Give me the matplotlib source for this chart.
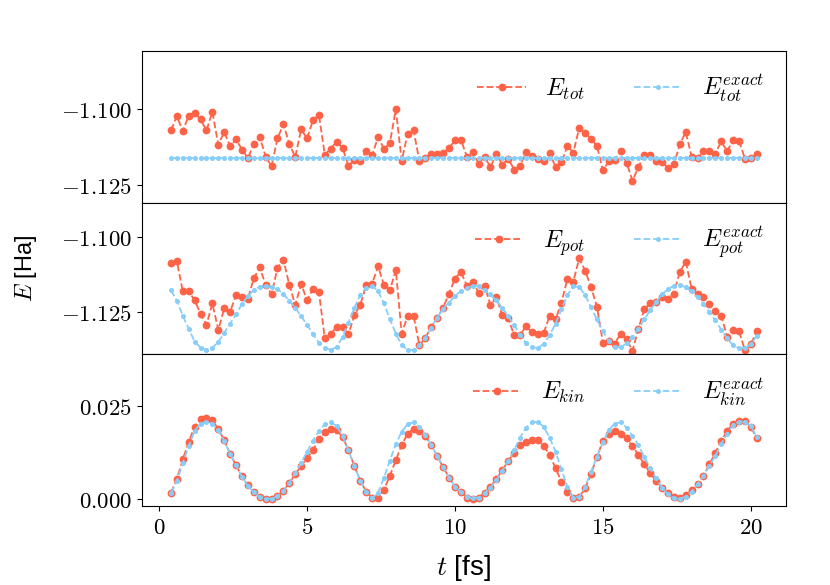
import numpy as np
import matplotlib
matplotlib.use("Agg")
import matplotlib.pyplot as plt
from matplotlib.ticker import MultipleLocator, FuncFormatter

plt.rcParams['mathtext.fontset'] = 'cm'
plt.rcParams['font.family'] = ['Liberation Sans', 'DejaVu Sans']

# time grid, fs
t = np.linspace(0.4, 20.2, 100)

E_tot = [-1.1070, -1.1023, -1.1073, -1.1021, -1.1012, -1.1034, -1.1070, -1.1009, -1.1118, -1.1076,
         -1.1123, -1.1099, -1.1134, -1.1162, -1.1117, -1.1092, -1.1157, -1.1189, -1.1097, -1.1050,
         -1.1114, -1.1159, -1.1067, -1.1096, -1.1037, -1.1018, -1.1151, -1.1131, -1.1108, -1.1128,
         -1.1188, -1.1168, -1.1173, -1.1140, -1.1153, -1.1092, -1.1132, -1.1112, -1.1000, -1.1171,
         -1.1081, -1.1070, -1.1173, -1.1161, -1.1149, -1.1149, -1.1146, -1.1129, -1.1103, -1.1101,
         -1.1157, -1.1142, -1.1181, -1.1157, -1.1192, -1.1148, -1.1184, -1.1164, -1.1200, -1.1188,
         -1.1142, -1.1154, -1.1164, -1.1173, -1.1144, -1.1192, -1.1176, -1.1122, -1.1144, -1.1062,
         -1.1079, -1.1098, -1.1122, -1.1203, -1.1173, -1.1167, -1.1140, -1.1177, -1.1237, -1.1192,
         -1.1151, -1.1151, -1.1173, -1.1176, -1.1194, -1.1183, -1.1117, -1.1076, -1.1157, -1.1162,
         -1.1139, -1.1137, -1.1147, -1.1107, -1.1139, -1.1103, -1.1104, -1.1164, -1.1162, -1.1148]

E_tot_exact = [-1.1162] * 100

E_pot = [-1.1088, -1.1082, -1.1182, -1.1182, -1.1211, -1.1256, -1.1293, -1.1222, -1.1310, -1.1238,
         -1.1250, -1.1193, -1.1199, -1.1206, -1.1138, -1.1102, -1.1160, -1.1191, -1.1104, -1.1076,
         -1.1160, -1.1227, -1.1158, -1.1210, -1.1174, -1.1183, -1.1338, -1.1324, -1.1299, -1.1299,
         -1.1324, -1.1261, -1.1227, -1.1161, -1.1156, -1.1098, -1.1161, -1.1178, -1.1111, -1.1322,
         -1.1263, -1.1263, -1.1361, -1.1336, -1.1299, -1.1269, -1.1236, -1.1189, -1.1139, -1.1117,
         -1.1163, -1.1149, -1.1186, -1.1163, -1.1227, -1.1202, -1.1261, -1.1271, -1.1327, -1.1328,
         -1.1297, -1.1317, -1.1322, -1.1319, -1.1263, -1.1274, -1.1219, -1.1141, -1.1149, -1.1072,
         -1.1113, -1.1167, -1.1233, -1.1352, -1.1347, -1.1356, -1.1322, -1.1339, -1.1380, -1.1306,
         -1.1241, -1.1221, -1.1216, -1.1202, -1.1206, -1.1189, -1.1117, -1.1083, -1.1174, -1.1191,
         -1.1202, -1.1224, -1.1247, -1.1263, -1.1332, -1.1310, -1.1313, -1.1377, -1.1358, -1.1313]

E_pot_exact = [-1.1178, -1.1213, -1.1263, -1.1306, -1.1349, -1.1369, -1.1377, -1.1369, -1.1350, -1.1319,
               -1.1289, -1.1258, -1.1224, -1.1197, -1.1178, -1.1166, -1.1163, -1.1167, -1.1174, -1.1191,
               -1.1213, -1.1236, -1.1264, -1.1293, -1.1324, -1.1352, -1.1369, -1.1377, -1.1366, -1.1333,
               -1.1286, -1.1236, -1.1193, -1.1169, -1.1163, -1.1180, -1.1222, -1.1274, -1.1322, -1.1360,
               -1.1377, -1.1377, -1.1361, -1.1336, -1.1302, -1.1269, -1.1239, -1.1219, -1.1197, -1.1180,
               -1.1171, -1.1163, -1.1165, -1.1177, -1.1192, -1.1212, -1.1237, -1.1264, -1.1293, -1.1327,
               -1.1354, -1.1368, -1.1370, -1.1356, -1.1327, -1.1289, -1.1241, -1.1194, -1.1165, -1.1167,
               -1.1194, -1.1235, -1.1275, -1.1314, -1.1347, -1.1365, -1.1368, -1.1354, -1.1332, -1.1307,
               -1.1275, -1.1244, -1.1217, -1.1192, -1.1174, -1.1163, -1.1162, -1.1167, -1.1181, -1.1201,
               -1.1224, -1.1250, -1.1278, -1.1309, -1.1338, -1.1361, -1.1370, -1.1370, -1.1358, -1.1329]

E_kin = [0.0016, 0.0053, 0.0106, 0.0154, 0.0194, 0.0215, 0.0219, 0.0212, 0.0188, 0.0158,
         0.0121, 0.0090, 0.0060, 0.0037, 0.0019, 0.0005, 0.0000, 0.0000, 0.0007, 0.0021,
         0.0042, 0.0066, 0.0088, 0.0109, 0.0131, 0.0160, 0.0179, 0.0188, 0.0185, 0.0167,
         0.0131, 0.0088, 0.0048, 0.0019, 0.0003, 0.0001, 0.0024, 0.0062, 0.0104, 0.0145,
         0.0176, 0.0188, 0.0183, 0.0169, 0.0145, 0.0115, 0.0085, 0.0057, 0.0032, 0.0019,
         0.0003, 0.0000, 0.0003, 0.0016, 0.0032, 0.0053, 0.0077, 0.0102, 0.0124, 0.0145,
         0.0152, 0.0158, 0.0158, 0.0143, 0.0118, 0.0082, 0.0046, 0.0017, 0.0003, 0.0004,
         0.0028, 0.0067, 0.0113, 0.0156, 0.0176, 0.0183, 0.0176, 0.0163, 0.0142, 0.0118,
         0.0093, 0.0069, 0.0048, 0.0030, 0.0015, 0.0005, 0.0003, 0.0010, 0.0022, 0.0039,
         0.0062, 0.0093, 0.0123, 0.0156, 0.0183, 0.0203, 0.0210, 0.0210, 0.0194, 0.0163]

E_kin_exact = [0.0016, 0.0048, 0.0096, 0.0142, 0.0183, 0.0203, 0.0208, 0.0203, 0.0185, 0.0156,
               0.0121, 0.0090, 0.0059, 0.0034, 0.0017, 0.0004, 0.0000, 0.0000, 0.0007, 0.0021,
               0.0042, 0.0069, 0.0096, 0.0127, 0.0156, 0.0183, 0.0201, 0.0206, 0.0197, 0.0169,
               0.0131, 0.0088, 0.0048, 0.0017, 0.0003, 0.0015, 0.0057, 0.0102, 0.0148, 0.0181,
               0.0202, 0.0206, 0.0194, 0.0172, 0.0145, 0.0115, 0.0085, 0.0057, 0.0032, 0.0019,
               0.0005, 0.0001, 0.0003, 0.0015, 0.0030, 0.0050, 0.0075, 0.0102, 0.0131, 0.0165,
               0.0192, 0.0206, 0.0208, 0.0194, 0.0165, 0.0127, 0.0079, 0.0032, 0.0003, 0.0005,
               0.0032, 0.0073, 0.0113, 0.0152, 0.0185, 0.0203, 0.0206, 0.0192, 0.0170, 0.0145,
               0.0113, 0.0082, 0.0055, 0.0030, 0.0012, 0.0001, 0.0000, 0.0005, 0.0019, 0.0039,
               0.0062, 0.0088, 0.0116, 0.0147, 0.0176, 0.0199, 0.0208, 0.0208, 0.0196, 0.0167]

panels = [
    (E_tot, E_tot_exact, 'tot', (-1.1310, -1.0807)),
    (E_pot, E_pot_exact, 'pot', (-1.1391, -1.0887)),
    (E_kin, E_kin_exact, 'kin', (-0.0020, 0.0390)),
]

fig, axes = plt.subplots(3, 1, sharex=True, figsize=(8.3, 5.85), dpi=100)
fig.subplots_adjust(left=0.1707, right=0.947, top=0.9128, bottom=0.135, hspace=0)

fmt = FuncFormatter(lambda v, pos: r'$%.3f$' % v)

for ax, (approx, exact, name, ylim) in zip(axes, panels):
    ax.plot(t, approx, '--o', color='tomato', lw=1.3, ms=4.6, label=r'$E_{%s}$' % name)
    ax.plot(t, exact, '--o', color='lightskyblue', lw=1.3, ms=2.6, label=r'$E_{%s}^{exact}$' % name)
    ax.set_ylim(*ylim)
    ax.yaxis.set_major_locator(MultipleLocator(0.025))
    ax.yaxis.set_major_formatter(fmt)
    ax.tick_params(axis='y', labelsize=16.5)
    ax.legend(loc='upper right', ncol=2, frameon=False, fontsize=17.5)

for ax in axes[:2]:
    ax.tick_params(axis='x', bottom=False)

axes[2].xaxis.set_major_locator(MultipleLocator(5))
axes[2].xaxis.set_major_formatter(FuncFormatter(lambda v, pos: r'$%d$' % v))
axes[2].tick_params(axis='x', labelsize=16.5)
axes[2].set_xlabel(r'$t$ [fs]', fontsize=20, labelpad=10)

fig.text(26 / 830, 1 - 268 / 585, r'$E$ [Ha]', rotation=90, fontsize=17,
         ha='center', va='center')

fig.savefig('out.png')
